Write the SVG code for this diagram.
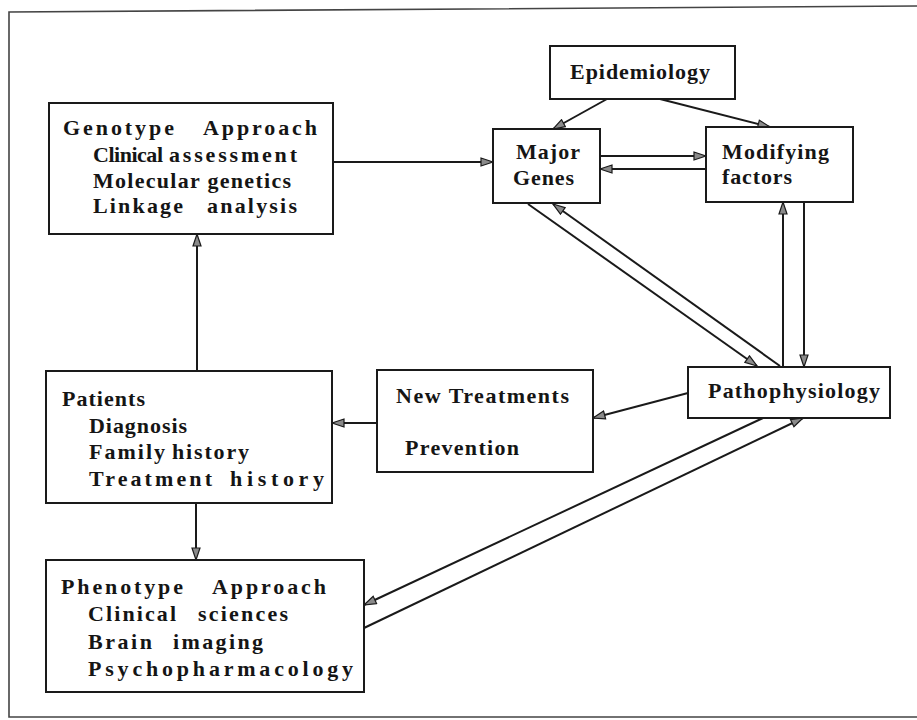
<svg xmlns="http://www.w3.org/2000/svg" width="917" height="720" viewBox="0 0 917 720">
<style>
.box{fill:#fff;stroke:#1a1a1a;stroke-width:2}
.t{font-family:"Liberation Serif","DejaVu Serif","Times New Roman",serif;font-weight:bold;font-size:22px;fill:#151515}
.c{fill:none;stroke:#1a1a1a;stroke-width:2;marker-end:url(#ah)}
.frame{fill:none;stroke:#444;stroke-width:1.6}
</style>
<defs>
<marker id="ah" viewBox="0 0 14 10" refX="13" refY="5" markerWidth="14" markerHeight="10" orient="auto" markerUnits="userSpaceOnUse">
<path d="M1,1 L13,5 L1,9 Z" fill="#8a8a8a" stroke="#1a1a1a" stroke-width="1.2" stroke-linejoin="miter"/>
</marker>
</defs>
<rect x="0" y="0" width="917" height="720" fill="#fff"/>
<path class="frame" d="M917,6 L9,12 L9,717 L917,717"/>

<g id="connectors">
<path class="c" d="M607,99 L553,129"/>
<path class="c" d="M660,99 L770,127"/>
<path class="c" d="M600,156 L706,156"/>
<path class="c" d="M706,169 L600,169"/>
<path class="c" d="M333,162 L493,162"/>
<path class="c" d="M528,204 L757,366"/>
<path class="c" d="M780,366 L553,204"/>
<path class="c" d="M783,367 L783,202"/>
<path class="c" d="M804,202 L804,367"/>
<path class="c" d="M688,393 L593,418"/>
<path class="c" d="M377,423 L332,423"/>
<path class="c" d="M197,371 L197,234"/>
<path class="c" d="M196,503 L196,560"/>
<path class="c" d="M763,418 L364,605"/>
<path class="c" d="M364,628 L803,418"/>
</g>

<g id="epidemiology">
<rect class="box" x="550" y="46" width="185" height="53"/>
<text class="t" x="570" y="79" textLength="140" lengthAdjust="spacing">Epidemiology</text>
</g>

<g id="major-genes">
<rect class="box" x="493" y="129" width="107" height="74"/>
<text class="t" x="516" y="159" textLength="64" lengthAdjust="spacing">Major</text>
<text class="t" x="513" y="185" textLength="61" lengthAdjust="spacing">Genes</text>
</g>

<g id="modifying-factors">
<rect class="box" x="706" y="127" width="147" height="75"/>
<text class="t" x="722" y="159" textLength="107" lengthAdjust="spacing">Modifying</text>
<text class="t" x="722" y="184" textLength="70" lengthAdjust="spacing">factors</text>
</g>

<g id="genotype">
<rect class="box" x="49" y="103" width="284" height="131"/>
<text class="t" x="63" y="135"><tspan x="63" textLength="111" lengthAdjust="spacing">Genotype</tspan> <tspan x="203" textLength="114" lengthAdjust="spacing">Approach</tspan></text>
<text class="t" x="93" y="162"><tspan x="93" textLength="70" lengthAdjust="spacing">Clinical</tspan> <tspan x="169" textLength="128" lengthAdjust="spacing">assessment</tspan></text>
<text class="t" x="93" y="188" textLength="198" lengthAdjust="spacing">Molecular genetics</text>
<text class="t" x="93" y="213"><tspan x="93" textLength="90" lengthAdjust="spacing">Linkage</tspan> <tspan x="207" textLength="90" lengthAdjust="spacing">analysis</tspan></text>
</g>

<g id="patients">
<rect class="box" x="46" y="371" width="286" height="132"/>
<text class="t" x="62" y="406" textLength="83" lengthAdjust="spacing">Patients</text>
<text class="t" x="89" y="433" textLength="98" lengthAdjust="spacing">Diagnosis</text>
<text class="t" x="89" y="459"><tspan x="89" textLength="76" lengthAdjust="spacing">Family</tspan> <tspan x="172" textLength="77" lengthAdjust="spacing">history</tspan></text>
<text class="t" x="89" y="486"><tspan x="89" textLength="123" lengthAdjust="spacing">Treatment</tspan> <tspan x="230" textLength="94" lengthAdjust="spacing">history</tspan></text>
</g>

<g id="phenotype">
<rect class="box" x="46" y="560" width="318" height="132"/>
<text class="t" x="61" y="594"><tspan x="61" textLength="122" lengthAdjust="spacing">Phenotype</tspan> <tspan x="212" textLength="114" lengthAdjust="spacing">Approach</tspan></text>
<text class="t" x="88" y="621"><tspan x="88" textLength="88" lengthAdjust="spacing">Clinical</tspan> <tspan x="198" textLength="90" lengthAdjust="spacing">sciences</tspan></text>
<text class="t" x="88" y="649"><tspan x="88" textLength="64" lengthAdjust="spacing">Brain</tspan> <tspan x="173" textLength="90" lengthAdjust="spacing">imaging</tspan></text>
<text class="t" x="88" y="676" textLength="265" lengthAdjust="spacing">Psychopharmacology</text>
</g>

<g id="new-treatments">
<rect class="box" x="377" y="370" width="216" height="102"/>
<text class="t" x="396" y="403" textLength="173" lengthAdjust="spacing">New Treatments</text>
<text class="t" x="405" y="455" textLength="114" lengthAdjust="spacing">Prevention</text>
</g>

<g id="pathophysiology">
<rect class="box" x="688" y="367" width="202" height="51"/>
<text class="t" x="708" y="398" textLength="172" lengthAdjust="spacing">Pathophysiology</text>
</g>
</svg>
